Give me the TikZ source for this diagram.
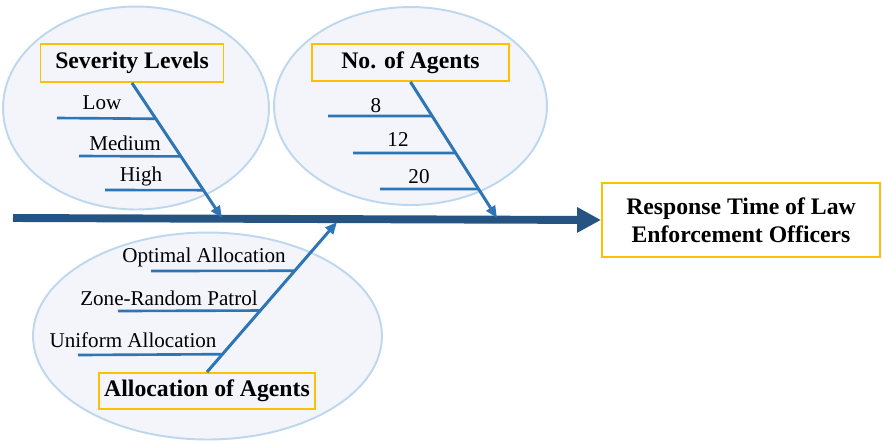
\documentclass[tikz,border=0pt]{standalone}
\usepackage{fontspec}
\setmainfont{Liberation Serif}
\usetikzlibrary{shapes.geometric, arrows.meta, calc}

\definecolor{bubbleline}{RGB}{189,215,238}
\definecolor{bubblefill}{RGB}{243,245,251}
\definecolor{boxline}{RGB}{255,192,0}
\definecolor{branchblue}{RGB}{46,117,182}
\definecolor{spineblue}{RGB}{37,83,130}

\begin{document}
\begin{tikzpicture}[x = 0.02cm, y = -0.02cm]
			    \tikzstyle{bubble}=[draw=bubbleline,fill=bubblefill,ellipse,line width = 1.1pt,inner sep=0pt]
			    \tikzstyle{cause}=[draw=boxline,fill=bubblefill,line width = 1.1pt,inner sep=0pt,font=\bfseries\fontsize{13.5}{16}\selectfont]
			    \tikzstyle{effect}=[draw=boxline,fill=white,line width = 1.1pt,inner sep=0pt,align=center,minimum width=5.56cm,minimum height=1.48cm,font=\bfseries\fontsize{13.5}{16}\selectfont]
			    \tikzstyle{level}=[inner sep=0pt,font=\fontsize{12}{14}\selectfont]
			    \tikzstyle{rib}=[draw,line width = 1.5pt,-,branchblue]
			    \tikzstyle{branch}=[draw,line width = 1.7pt,branchblue,-{Triangle[length=0.24cm,width=0.2cm]}]
			    \tikzstyle{spine}=[draw,line width = 4.5pt,spineblue,-{Triangle[length=0.48cm,width=0.48cm]}]
			    \useasboundingbox (0,0) rectangle (882,441);
			    \node[bubble,minimum width=5.32cm,minimum height=4.06cm] (sevzone) at (136,108) {};
			    \node[bubble,minimum width=5.46cm,minimum height=3.96cm] (agtzone) at (410.5,106) {};
			    \node[bubble,minimum width=6.98cm,minimum height=4.14cm] (alczone) at (207.5,336) {};
			    \node[cause,minimum width=3.66cm,minimum height=0.76cm] (sevbox) at (132,63) {Severity Levels};
			    \node[cause,minimum width=3.94cm,minimum height=0.74cm] (agtbox) at (410.5,62.5) {No. of Agents};
			    \node[cause,minimum width=4.32cm,minimum height=0.72cm] (alcbox) at (207,391) {Allocation of Agents};
			    \node[effect] (resp) at (741,220) {Response Time of Law\\Enforcement Officers};
			    \coordinate (tail) at (13,218);
			    \coordinate (sevtip) at (222,218);
			    \coordinate (agttip) at (497,218);
			    \coordinate (alctip) at (337,222);
			    \draw[spine] (tail) -- (resp.west);
			    \draw[branch] (sevbox.south) -- (sevtip);
			    \draw[branch] (agtbox.south) -- (agttip);
			    \draw[branch] (alcbox.north) -- (alctip);
			    \coordinate (low) at (57,118);
			    \coordinate (medium) at (79,156);
			    \coordinate (high) at (105,190);
			    \draw[rib] (low) -- ($(sevbox.south)!0.265!(sevtip)$);
			    \draw[rib] (medium) -- ($(sevbox.south)!0.544!(sevtip)$);
			    \draw[rib] (high) -- ($(sevbox.south)!0.794!(sevtip)$);
			    \node[level] (lowtxt) at (102,103) {Low};
			    \node[level] (medtxt) at (125,143) {Medium};
			    \node[level] (hightxt) at (141,176) {High};
			    \coordinate (eight) at (328,116);
			    \coordinate (twelve) at (353,153);
			    \coordinate (twenty) at (380,189);
			    \draw[rib] (eight) -- ($(agtbox.south)!0.25!(agttip)$);
			    \draw[rib] (twelve) -- ($(agtbox.south)!0.522!(agttip)$);
			    \draw[rib] (twenty) -- ($(agtbox.south)!0.787!(agttip)$);
			    \node[level] (eighttxt) at (376,106) {8};
			    \node[level] (twelvetxt) at (398,140) {12};
			    \node[level] (twentytxt) at (419,177) {20};
			    \coordinate (optimal) at (151,271);
			    \coordinate (zone) at (118,311);
			    \coordinate (uniform) at (78,355);
			    \draw[rib] (optimal) -- ($(alcbox.north)!0.675!(alctip)$);
			    \draw[rib] (zone) -- ($(alcbox.north)!0.41!(alctip)$);
			    \draw[rib] (uniform) -- ($(alcbox.north)!0.119!(alctip)$);
			    \node[level] (opttxt) at (204,257) {Optimal Allocation};
			    \node[level] (zonetxt) at (169,298) {Zone-Random Patrol};
			    \node[level] (unitxt) at (133,340) {Uniform Allocation};
			\end{tikzpicture}
\end{document}
